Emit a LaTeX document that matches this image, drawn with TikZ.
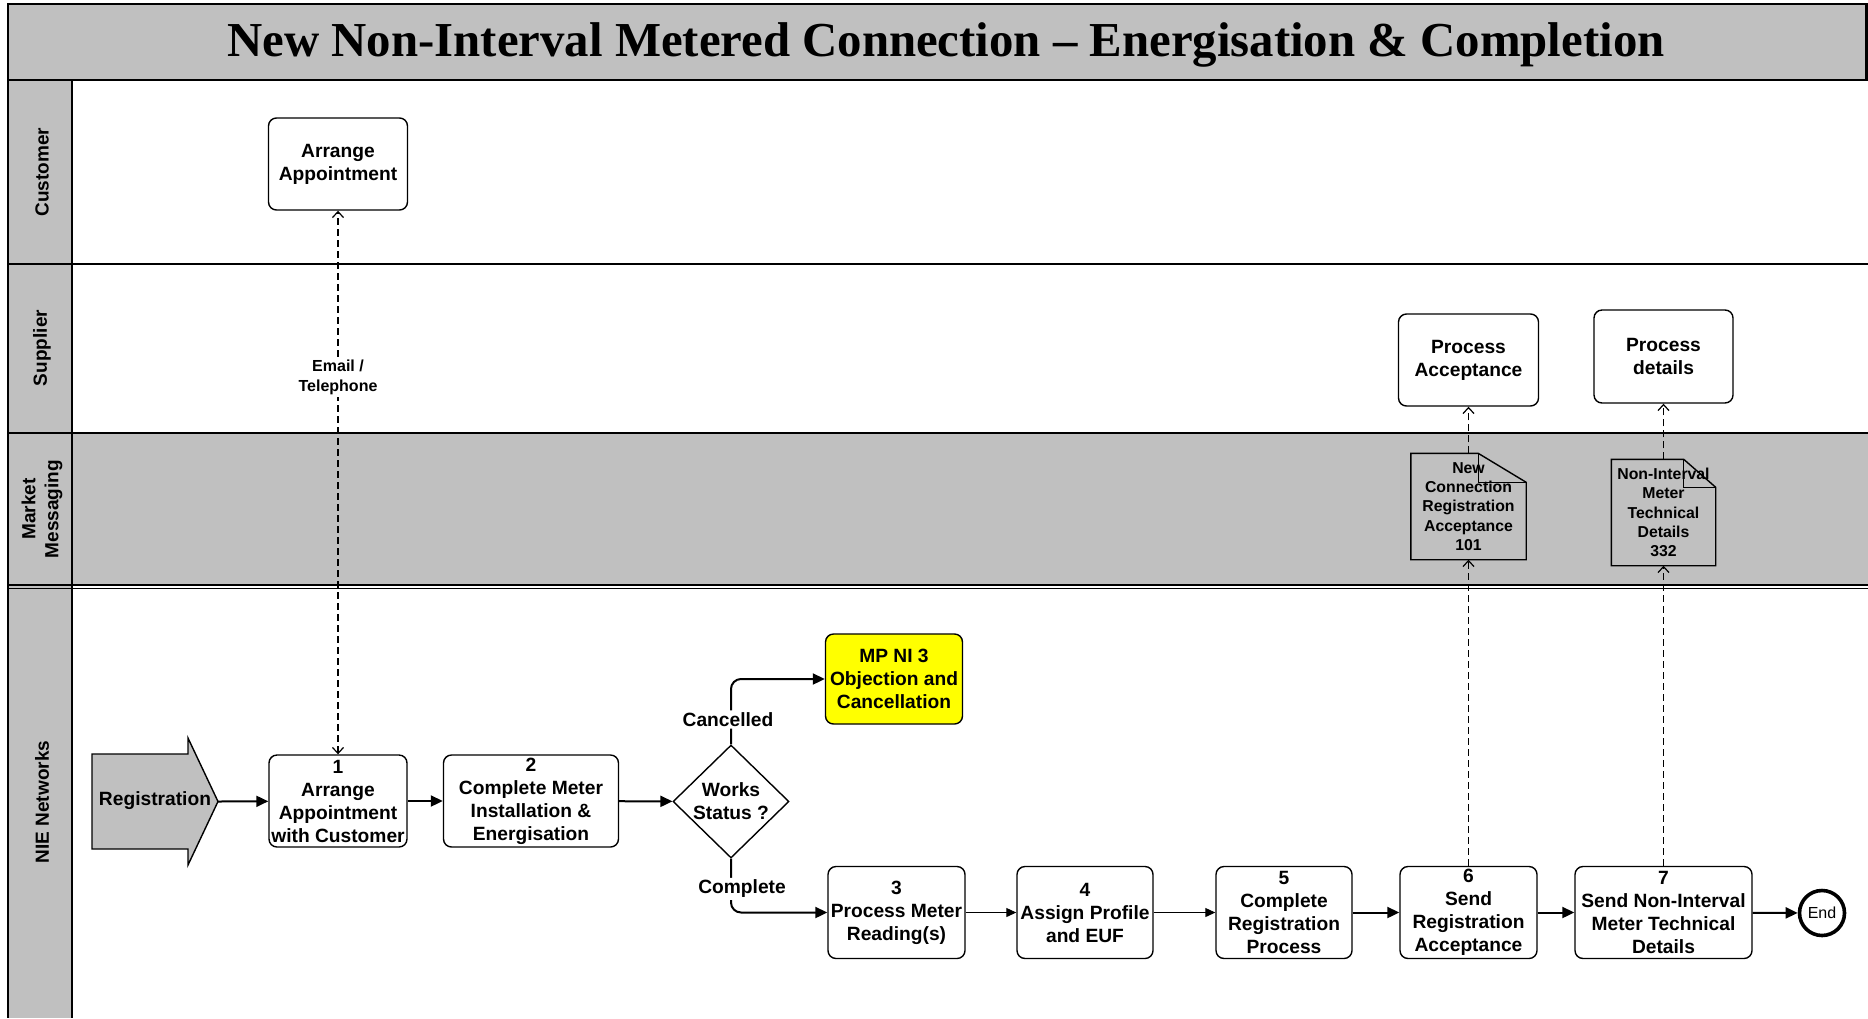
\documentclass[tikz,border=0pt]{standalone}
\usepackage{fontspec}
\setmainfont{Liberation Sans}
\newfontfamily\titlefont{Liberation Serif}
\usetikzlibrary{arrows.meta,shapes.geometric}
\definecolor{lanegray}{HTML}{C0C0C0}
\definecolor{mpyellow}{HTML}{FFFF00}
\begin{document}
\begin{tikzpicture}[x=0.5pt, y=-0.5pt, line width=0.7pt,
	box/.style={draw, rounded corners=4pt, align=center, inner sep=0pt, minimum height=46pt, font=\fontsize{9.6}{11.5}\selectfont\bfseries},
	decision/.style={draw, diamond, aspect=1, align=center, inner sep=0pt, minimum width=58pt, minimum height=56.5pt, font=\fontsize{9.6}{11.5}\selectfont\bfseries},
	doc/.style={align=center, inner sep=0pt, minimum height=52.5pt, font=\fontsize{7.9}{9.65}\selectfont\bfseries},
	endnode/.style={draw, circle, line width=1.8pt, minimum size=22.5pt, inner sep=0pt, font=\fontsize{8}{9.6}\selectfont},
	lanelabel/.style={rotate=90, align=center, font=\fontsize{9.5}{11.5}\selectfont\bfseries},
	lbl/.style={fill=white, inner sep=1pt, align=center, font=\fontsize{9.6}{11.5}\selectfont\bfseries},
	lane/.style={line width=0.9pt},
	flow/.style={line width=1pt, -{Triangle[length=6pt, width=5.5pt]}},
	flowthin/.style={line width=0.5pt, -{Triangle[length=5pt, width=4.5pt]}},
	msg/.style={line width=0.6pt, dash pattern=on 3.5pt off 2pt, -{Straight Barb[length=3pt, width=5.5pt]}},
	msgboth/.style={msg, {Straight Barb[length=3pt, width=5.5pt]}-{Straight Barb[length=3pt, width=5.5pt]}}]
	\useasboundingbox (0,0) rectangle (1868,1018);
	\fill[lanegray] (8,4) rectangle (1868,80);
	\fill[lanegray] (8,80) rectangle (72,1018);
	\fill[lanegray] (72,433) rectangle (1868,585);
	\draw[line width=1.2pt] (1866.5,80) -- (1866.5,4) -- (8,4) -- (8,1018);
	\draw[line width=1.2pt] (8,80) -- (1868,80);
	\draw[line width=1pt] (72,80) -- (72,1018);
	\draw[lane] (8,264) -- (1868,264) (8,433) -- (1868,433) (8,585) -- (1868,585) (8,588.5) -- (1868,588.5);
	\node[anchor=base, font=\titlefont\fontsize{24.4}{29}\selectfont\bfseries] (title) at (946,56) {New Non-Interval Metered Connection – Energisation \& Completion};
	\node[lanelabel] (customer) at (42,172) {Customer};
	\node[lanelabel] (supplier) at (42,348) {Supplier};
	\node[lanelabel] (market) at (42,509) {Market\\Messaging};
	\node[lanelabel] (nie) at (42,802) {NIE Networks};
	\draw[fill=lanegray] (92,754) -- (188,754) -- (188,738) -- (218,801.5) -- (188,865) -- (188,849) -- (92,849) -- cycle;
	\path coordinate (regtip) at (218,801.5);
	\node[font=\fontsize{9.6}{11.5}\selectfont\bfseries] (reg) at (155,801) {Registration};
	\node[box, minimum width=69.5pt] (custarrange) at (338,164) {Arrange\\Appointment};
	\node[box, minimum width=69pt] (arrange) at (338,801) {1\\Arrange\\Appointment\\with Customer};
	\node[box, minimum width=87.5pt] (install) at (531,801) {2\\Complete Meter\\Installation \&\\Energisation};
	\node[decision] (works) at (731,801.5) {Works\\Status ?};
	\node[box, fill=mpyellow, minimum width=68.5pt, minimum height=45pt] (mpni) at (894,679) {MP NI 3\\Objection and\\Cancellation};
	\node[box, minimum width=68.5pt] (reading) at (896.5,912.5) {3\\Process Meter\\Reading(s)};
	\node[box, minimum width=68pt] (profile) at (1085,912.5) {4\\Assign Profile\\and EUF};
	\node[box, minimum width=68pt] (complete) at (1284,912.5) {5\\Complete\\Registration\\Process};
	\node[box, minimum width=68.5pt] (sendacc) at (1468.5,912.5) {6\\Send\\Registration\\Acceptance};
	\node[box, minimum width=88.5pt] (sendtech) at (1663.5,912.5) {7\\Send Non-Interval\\Meter Technical\\Details};
	\node[endnode] (end) at (1822,913) {End};
	\node[box, minimum width=70pt] (procacc) at (1468.5,360) {Process\\Acceptance};
	\node[box, minimum width=69.5pt, minimum height=46.5pt] (procdet) at (1663.5,356.5) {Process\\details};
	\node[doc, minimum width=57pt] (msg101) at (1468.5,506.5) {New\\Connection\\Registration\\Acceptance\\101};
	\node[doc, minimum width=51.5pt] (msg332) at (1663.5,512.5) {Non-Interval\\Meter\\Technical\\Details\\332};
	\draw (msg101.south west) -- (msg101.north west) -- ([xshift=-24pt]msg101.north east) -- ([yshift=-14.5pt]msg101.north east) -- (msg101.south east) -- cycle;
	\draw ([xshift=-24pt]msg101.north east) |- ([yshift=-14.5pt]msg101.north east);
	\draw (msg332.south west) -- (msg332.north west) -- ([xshift=-16pt]msg332.north east) -- ([yshift=-14pt]msg332.north east) -- (msg332.south east) -- cycle;
	\draw ([xshift=-16pt]msg332.north east) |- ([yshift=-14pt]msg332.north east);
	\draw[flow] (regtip) -- (arrange);
	\draw[flow] (arrange) -- (install);
	\draw[flow] (install) -- (works);
	\draw[flow, rounded corners=5pt] (works.north) |- (mpni.west) node[lbl, pos=0.19, xshift=-1.5pt] {Cancelled};
	\draw[flow, rounded corners=5pt] (works.south) |- (reading.west) node[lbl, pos=0.28, xshift=5.5pt] {Complete};
	\draw[flowthin] (reading) -- (profile);
	\draw[flowthin] (profile) -- (complete);
	\draw[flow] (complete) -- (sendacc);
	\draw[flow] (sendacc) -- (sendtech);
	\draw[flow] (sendtech) -- (end);
	\draw[msgboth] (arrange.north) -- (custarrange.south) node[lbl, pos=0.694, font=\fontsize{8}{10}\selectfont\bfseries] {Email /\\Telephone};
	\draw[msg] (sendacc.north) -- (msg101.south);
	\draw[msg] (msg101.north) -- (procacc.south);
	\draw[msg] (sendtech.north) -- (msg332.south);
	\draw[msg] (msg332.north) -- (procdet.south);
\end{tikzpicture}
\end{document}
